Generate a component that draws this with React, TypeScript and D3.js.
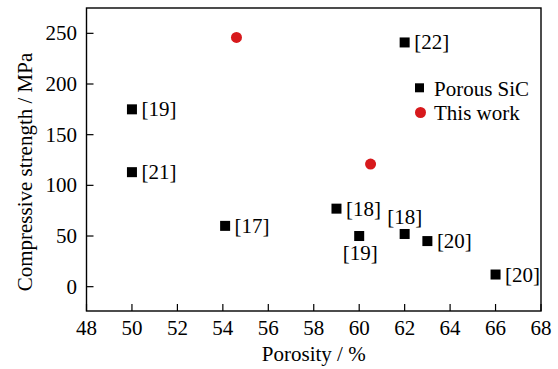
import React from "react";
import * as d3 from "d3";

const W = 558;
const H = 369;

const sicPorosity = [50, 50, 54.1, 59, 60, 62, 63, 66, 62];
const sicStrength = [175, 113, 60, 77, 50, 52, 45, 12, 241];
const sicRefs = ["[19]", "[21]", "[17]", "[18]", "[19]", "[18]", "[20]", "[20]", "[22]"];
const sicLabelPos = ["right", "right", "right", "right", "below", "above", "right", "right", "right"];

const workPorosity = [54.6, 60.5];
const workStrength = [246, 121];

const xTicks = [48, 50, 52, 54, 56, 58, 60, 62, 64, 66, 68];
const yTicks = [0, 50, 100, 150, 200, 250];

const legendLabels = ["Porous SiC", "This work"];

const FONT = "'Liberation Serif', 'Times New Roman', serif";
const RED = "#d7191c";

export default function App() {
  const left = 86.5;
  const right = 541;
  const top = 8;
  const bottom = 311;
  const x = d3.scaleLinear().domain([48, 68]).range([left, right]);
  const y = d3.scaleLinear().domain([-24, 275]).range([bottom, top]);
  const tickLen = 7;
  const sq = 10;
  const r = 5.5;

  return (
    <svg
      width={W}
      height={H}
      style={{ position: "absolute", left: 0, top: 0, background: "#fff" }}
      fontFamily={FONT}
      fontSize={21}
    >
      <rect x={0} y={0} width={W} height={H} fill="#fff" />
      {xTicks.map((t) => (
        <g key={"xt" + t}>
          <line x1={x(t)} x2={x(t)} y1={bottom} y2={bottom - tickLen} stroke="#000" strokeWidth={1.2} />
          <text x={x(t)} y={335} textAnchor="middle" fill="#000">
            {t}
          </text>
        </g>
      ))}
      {yTicks.map((t) => (
        <g key={"yt" + t}>
          <line x1={left} x2={left + tickLen} y1={y(t)} y2={y(t)} stroke="#000" strokeWidth={1.2} />
          <text x={77} y={y(t) + 7} textAnchor="end" fill="#000">
            {t}
          </text>
        </g>
      ))}
      <rect
        x={left}
        y={top}
        width={right - left}
        height={bottom - top}
        fill="none"
        stroke="#000"
        strokeWidth={1.4}
      />
      {sicPorosity.map((p, i) => {
        const cx = x(p);
        const cy = y(sicStrength[i]);
        const pos = sicLabelPos[i];
        let lx = cx + 9.5;
        let ly = cy + 7;
        let anchor: "start" | "middle" = "start";
        if (pos === "above") {
          lx = cx;
          ly = cy - 10;
          anchor = "middle";
        } else if (pos === "below") {
          lx = cx + 1;
          ly = cy + 24;
          anchor = "middle";
        }
        return (
          <g key={"s" + i}>
            <rect x={cx - sq / 2} y={cy - sq / 2} width={sq} height={sq} fill="#000" />
            <text x={lx} y={ly} textAnchor={anchor} fill="#000">
              {sicRefs[i]}
            </text>
          </g>
        );
      })}
      {workPorosity.map((p, i) => (
        <circle key={"w" + i} cx={x(p)} cy={y(workStrength[i])} r={r} fill={RED} />
      ))}
      <rect x={415} y={83.3} width={9} height={9} fill="#000" />
      <text x={434} y={95.5} fill="#000">
        {legendLabels[0]}
      </text>
      <circle cx={420.5} cy={112.5} r={5.5} fill={RED} />
      <text x={434} y={120} fill="#000">
        {legendLabels[1]}
      </text>
      <text x={(left + right) / 2} y={361} textAnchor="middle" fill="#000">
        Porosity / %
      </text>
      <text transform={`translate(32, 172) rotate(-90)`} textAnchor="middle" fill="#000">
        Compressive strength / MPa
      </text>
    </svg>
  );
}
